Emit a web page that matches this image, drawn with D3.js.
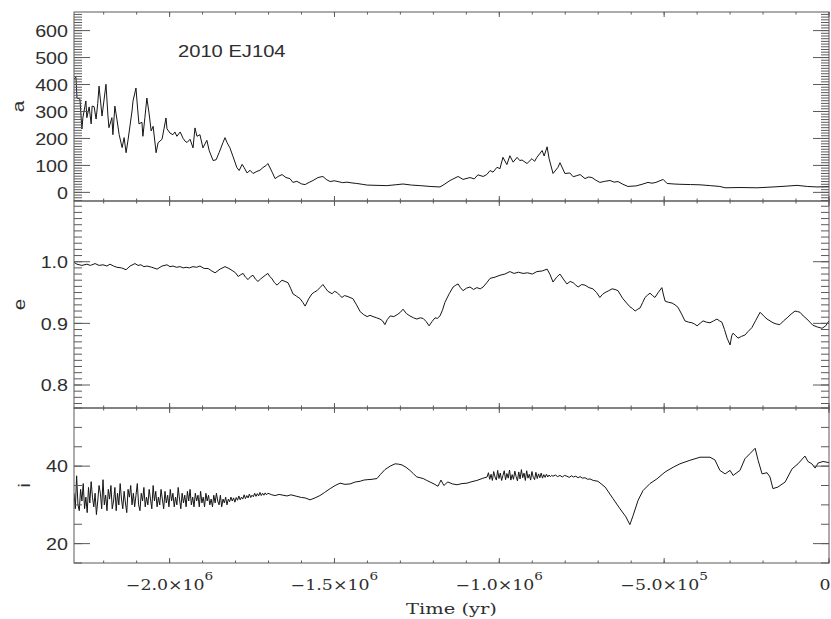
<!DOCTYPE html>
<html><head><meta charset="utf-8">
<script src="https://cdn.jsdelivr.net/npm/d3@7"></script>
<style>html,body{margin:0;padding:0;background:#fff;overflow:hidden}</style>
</head><body>
<svg id="chart" width="831" height="619"></svg>
<script>
// ---------------- DATA (time in kyr, value) ----------------
const objectName = "2010 EJ104";
const xTitle = "Time (yr)";
const panelLabels = ["a", "e", "i"];

const aSeries = [[-2290,420],[-2284,427],[-2281,350],[-2272,346],[-2266,235],[-2263,277],[-2254,339],[-2251,277],[-2244,317],[-2238,254],[-2235,320],[-2229,318],[-2223,272],[-2218,330],[-2214,394],[-2205,283],[-2193,401],[-2187,283],[-2184,240],[-2175,277],[-2172,214],[-2166,320],[-2160,272],[-2153,214],[-2144,166],[-2138,203],[-2132,147],[-2126,195],[-2114,302],[-2111,339],[-2102,387],[-2099,339],[-2093,254],[-2084,260],[-2081,208],[-2075,277],[-2069,350],[-2062,291],[-2056,228],[-2050,245],[-2041,147],[-2035,184],[-2023,197],[-2017,236],[-2011,276],[-2008,236],[-1999,220],[-1990,214],[-1984,224],[-1978,208],[-1968,224],[-1959,200],[-1953,190],[-1947,185],[-1938,197],[-1929,165],[-1923,239],[-1917,208],[-1908,214],[-1899,165],[-1887,193],[-1880,155],[-1868,118],[-1859,121],[-1850,147],[-1838,185],[-1832,203],[-1826,185],[-1817,165],[-1808,134],[-1796,92],[-1789,81],[-1780,104],[-1774,92],[-1765,72],[-1756,82],[-1747,70],[-1735,78],[-1726,82],[-1717,92],[-1708,99],[-1702,107],[-1689,75],[-1680,51],[-1671,59],[-1659,66],[-1647,55],[-1635,51],[-1626,37],[-1614,41],[-1599,31],[-1589,29],[-1577,37],[-1565,44],[-1550,55],[-1535,59],[-1525,48],[-1513,40],[-1501,43],[-1489,40],[-1475,36],[-1462,38],[-1447,35],[-1432,33],[-1416,30],[-1401,27],[-1371,26],[-1341,25],[-1316,28],[-1292,31],[-1266,27],[-1240,25],[-1210,22],[-1180,20],[-1165,31],[-1152,42],[-1143,48],[-1125,59],[-1110,48],[-1098,52],[-1089,55],[-1076,50],[-1065,65],[-1049,59],[-1038,66],[-1028,81],[-1019,75],[-1007,93],[-998,88],[-989,130],[-977,103],[-968,136],[-958,112],[-946,130],[-938,118],[-931,120],[-916,107],[-901,125],[-893,115],[-886,130],[-870,155],[-864,135],[-855,169],[-849,125],[-837,70],[-822,93],[-816,110],[-801,70],[-786,72],[-776,58],[-765,62],[-755,66],[-740,51],[-730,57],[-719,55],[-707,45],[-695,37],[-680,41],[-664,44],[-652,38],[-640,40],[-625,30],[-610,22],[-585,24],[-567,30],[-549,37],[-537,34],[-525,37],[-503,48],[-491,33],[-470,31],[-452,30],[-420,29],[-391,28],[-360,25],[-331,22],[-315,17],[-270,18],[-218,17],[-170,20],[-130,23],[-97,26],[-66,22],[-36,20],[0,22]];

const eSeries = [[-2290,0.999],[-2281,0.996],[-2266,0.994],[-2251,0.996],[-2240,0.994],[-2226,0.997],[-2214,0.994],[-2202,0.995],[-2190,0.993],[-2181,0.996],[-2170,0.993],[-2160,0.991],[-2146,0.990],[-2132,0.987],[-2120,0.993],[-2105,0.997],[-2096,0.994],[-2087,0.995],[-2078,0.992],[-2069,0.993],[-2054,0.991],[-2038,0.988],[-2023,0.993],[-2008,0.995],[-1999,0.992],[-1990,0.993],[-1979,0.991],[-1968,0.992],[-1959,0.990],[-1950,0.991],[-1940,0.990],[-1929,0.992],[-1918,0.991],[-1908,0.993],[-1895,0.989],[-1883,0.989],[-1872,0.985],[-1862,0.982],[-1847,0.988],[-1832,0.992],[-1820,0.989],[-1808,0.985],[-1800,0.982],[-1792,0.976],[-1784,0.979],[-1777,0.981],[-1770,0.975],[-1762,0.971],[-1754,0.976],[-1747,0.978],[-1740,0.972],[-1732,0.968],[-1724,0.972],[-1717,0.975],[-1710,0.978],[-1702,0.981],[-1696,0.976],[-1689,0.972],[-1682,0.966],[-1674,0.962],[-1667,0.966],[-1659,0.970],[-1650,0.968],[-1641,0.966],[-1633,0.957],[-1626,0.948],[-1615,0.944],[-1604,0.940],[-1596,0.934],[-1589,0.928],[-1578,0.940],[-1568,0.948],[-1560,0.951],[-1553,0.953],[-1544,0.958],[-1535,0.963],[-1527,0.957],[-1520,0.952],[-1507,0.948],[-1500,0.952],[-1492,0.950],[-1485,0.946],[-1477,0.942],[-1470,0.945],[-1462,0.944],[-1453,0.942],[-1444,0.940],[-1433,0.930],[-1422,0.919],[-1411,0.914],[-1401,0.911],[-1392,0.913],[-1383,0.911],[-1372,0.909],[-1362,0.907],[-1354,0.904],[-1347,0.898],[-1340,0.906],[-1331,0.912],[-1320,0.911],[-1310,0.914],[-1300,0.918],[-1292,0.923],[-1282,0.916],[-1271,0.912],[-1260,0.909],[-1250,0.907],[-1240,0.909],[-1231,0.908],[-1222,0.903],[-1213,0.896],[-1204,0.903],[-1195,0.909],[-1188,0.908],[-1180,0.912],[-1172,0.922],[-1165,0.934],[-1152,0.948],[-1140,0.959],[-1132,0.962],[-1125,0.964],[-1118,0.958],[-1110,0.953],[-1100,0.957],[-1089,0.959],[-1078,0.955],[-1068,0.958],[-1058,0.956],[-1049,0.959],[-1038,0.966],[-1028,0.973],[-1013,0.975],[-998,0.978],[-983,0.980],[-968,0.984],[-955,0.981],[-942,0.983],[-928,0.981],[-914,0.982],[-900,0.980],[-886,0.984],[-870,0.985],[-855,0.988],[-846,0.979],[-837,0.967],[-826,0.975],[-816,0.980],[-806,0.972],[-795,0.964],[-785,0.968],[-776,0.966],[-768,0.962],[-761,0.959],[-750,0.963],[-740,0.962],[-728,0.958],[-716,0.956],[-705,0.950],[-695,0.942],[-687,0.947],[-679,0.950],[-668,0.953],[-658,0.956],[-649,0.955],[-640,0.953],[-632,0.946],[-625,0.940],[-614,0.933],[-604,0.927],[-596,0.924],[-588,0.920],[-580,0.923],[-573,0.925],[-565,0.934],[-558,0.942],[-550,0.946],[-543,0.949],[-535,0.945],[-528,0.942],[-518,0.950],[-507,0.958],[-502,0.946],[-497,0.936],[-486,0.934],[-476,0.933],[-467,0.930],[-458,0.926],[-447,0.915],[-437,0.904],[-426,0.902],[-416,0.901],[-408,0.899],[-400,0.896],[-391,0.900],[-382,0.904],[-372,0.902],[-361,0.901],[-350,0.904],[-340,0.907],[-332,0.904],[-325,0.902],[-317,0.890],[-309,0.876],[-300,0.865],[-295,0.880],[-291,0.884],[-283,0.880],[-276,0.876],[-265,0.879],[-255,0.881],[-245,0.887],[-234,0.893],[-222,0.905],[-209,0.918],[-198,0.912],[-188,0.907],[-179,0.904],[-170,0.901],[-160,0.899],[-149,0.898],[-138,0.904],[-127,0.909],[-115,0.915],[-103,0.920],[-95,0.919],[-88,0.918],[-78,0.912],[-67,0.907],[-58,0.902],[-49,0.897],[-35,0.894],[-21,0.892],[-10,0.896],[0,0.904]];

const iSeries = [
[-2290,33],[-2286,29],[-2282,37.5],[-2278,30],[-2274,28.5],[-2270,34],[-2266,31],[-2262,35.5],[-2258,29],[-2254,32],[-2250,28],[-2246,34.5],[-2242,30.5],[-2238,36],[-2234,32],[-2230,29.5],[-2226,33],[-2222,27.5],[-2218,31],[-2214,35],[-2210,33],[-2206,29],[-2202,36.5],[-2198,30],[-2194,32.5],[-2190,28.5],[-2186,34],[-2182,31.5],[-2178,35],[-2174,29],[-2170,31],[-2166,34.5],[-2162,28.5],[-2158,33],[-2154,30],[-2150,35.5],[-2146,31.5],[-2142,29],[-2138,33.5],[-2134,30.5],[-2130,28],[-2126,34],[-2122,32],[-2118,35],[-2114,30],[-2110,33],[-2106,29.5],[-2102,32.5],
[-2098,35.5],[-2094,30],[-2090,28.5],[-2086,33],[-2082,31],[-2078,34.5],[-2074,29.5],[-2070,32],[-2066,30],[-2062,34],[-2058,31.5],[-2054,29],[-2050,35],[-2046,31],[-2042,33.5],[-2038,29.5],[-2034,32],[-2030,30],[-2026,34],[-2022,31.5],[-2018,29],[-2014,33.5],[-2010,30.5],[-2006,32.5],[-2002,29.5],[-1998,34],[-1994,31],[-1990,33],[-1986,29.5],[-1982,32],[-1978,30],[-1974,34.5],[-1970,31.5],[-1966,29],[-1962,33],[-1958,30.5],[-1954,32.5],[-1950,29.5],[-1946,33.5],[-1942,31],[-1938,34],[-1934,30],[-1930,32],[-1926,29.5],[-1922,33],[-1918,31],[-1914,32.5],[-1910,29.5],[-1906,33.5],[-1902,30.5],
[-1898,32],[-1894,29.5],[-1890,33],[-1886,31],[-1882,32.5],[-1878,30],[-1874,31.5],[-1870,29.5],[-1866,32.5],[-1862,30.5],[-1858,33],[-1854,31],[-1850,30],[-1846,32.5],[-1842,29.5],[-1838,31.5],[-1834,30.5],[-1830,32],[-1826,30],[-1822,31.5],
[-1818,30.8],[-1814,32],[-1810,31],[-1806,31.8],[-1802,30.7],[-1798,31.9],[-1794,31.2],[-1790,32.3],[-1786,31.3],[-1782,32],[-1778,31.5],[-1774,32.6],[-1770,31.6],[-1766,32.4],[-1762,31.8],[-1758,32.8],[-1754,31.9],[-1750,32.5],[-1746,32.1],[-1742,33],[-1738,32.2],[-1734,32.9],[-1730,32.3],[-1726,33.2],[-1722,32.4],[-1718,33],[-1714,32.5],[-1710,33.1],[-1706,32.6],[-1702,33],
[-1690,32.6],[-1680,32.4],[-1668,32.7],[-1656,32.5],[-1644,32.3],[-1632,32.6],[-1614,32.2],[-1600,31.9],[-1589,31.8],[-1574,31.3],[-1559,31.8],[-1544,32.4],[-1530,33.2],[-1513,34.2],[-1498,35.0],[-1483,35.6],[-1468,35.3],[-1453,35.4],[-1437,35.9],[-1422,36.1],[-1411,36.4],[-1401,36.5],[-1386,36.6],[-1371,36.8],[-1360,37.9],[-1347,39.1],[-1331,40.0],[-1316,40.6],[-1305,40.5],[-1295,40.3],[-1283,39.7],[-1271,38.9],[-1260,38.0],[-1250,37.2],[-1240,37.0],[-1231,36.8],[-1220,36.3],[-1210,35.9],[-1198,35.4],[-1186,34.8],[-1182,35.5],[-1177,36.4],[-1172,35.6],[-1168,35.0],[-1162,35.5],[-1156,35.9],[-1142,35.4],[-1128,35.2],[-1113,35.5],[-1098,35.6],[-1083,36.0],[-1068,36.3],[-1052,36.8],
[-1037,37.2],[-1033,38.3],[-1029,36.6],[-1025,37.9],[-1021,36.3],[-1017,38.6],[-1013,37.2],[-1009,36.4],[-1005,38.9],[-1001,36.8],[-997,38.2],[-993,36.3],[-989,37.6],[-985,38.8],[-981,36.5],[-977,38.1],[-973,36.9],[-969,39.0],[-965,36.4],[-961,37.8],[-957,36.6],[-953,38.7],[-949,37.3],[-945,36.2],[-941,38.5],[-937,36.7],[-933,39.1],[-929,37.0],[-925,38.2],[-921,36.3],[-917,38.8],[-913,36.9],[-909,37.9],[-905,36.4],[-901,38.6],[-897,37.1],[-893,36.5],[-889,38.4],[-885,36.8],[-881,38.0],[-877,37.0],[-873,38.2],[-869,36.9],[-865,37.8],[-861,37.1],[-857,37.9],[-853,37.2],[-849,37.7],[-845,37.3],[-841,37.6],[-837,37.4],
[-830,37.7],[-823,37.3],[-816,37.6],[-809,37.2],[-802,37.6],[-795,37.4],[-788,37.1],[-781,37.5],[-775,37.2],[-768,37.4],[-761,37.0],[-755,37.3],[-748,36.9],[-740,37.0],[-732,36.6],[-725,36.7],[-715,36.3],[-701,36.1],
[-679,34.6],[-655,31.6],[-634,29.0],[-616,26.9],[-604,24.9],[-594,27.3],[-579,31.2],[-564,33.7],[-543,35.5],[-522,36.7],[-497,38.5],[-473,39.7],[-452,40.6],[-422,41.5],[-391,42.3],[-361,42.3],[-346,41.6],[-331,38.9],[-315,38.0],[-300,38.9],[-291,37.6],[-270,38.9],[-255,41.9],[-240,43.2],[-224,44.6],[-215,41.5],[-203,38.0],[-188,38.3],[-179,37.2],[-170,34.2],[-155,34.6],[-133,35.9],[-112,39.3],[-94,40.6],[-73,42.6],[-64,41.2],[-52,40.6],[-42,39.5],[-33,40.8],[-18,41.2],[0,40.9]];

const xTickValues = [-2000000, -1500000, -1000000, -500000, 0];
const xTickMantissa = ["\u22122.0\u00d710", "\u22121.5\u00d710", "\u22121.0\u00d710", "\u22125.0\u00d710", "0"];
const xTickExponent = ["6", "6", "6", "5", ""];
const aTickValues = [0, 100, 200, 300, 400, 500, 600];
const aTickLabels = ["0", "100", "200", "300", "400", "500", "600"];
const eTickValues = [0.8, 0.9, 1.0];
const eTickLabels = ["0.8", "0.9", "1.0"];
const iTickValues = [20, 40];
const iTickLabels = ["20", "40"];

// ---------------- LAYOUT ----------------
const svg = d3.select("#chart");
const L = 74, R = 829;
const x = d3.scaleLinear().domain([-2290000, 0]).range([L, R]);

const panels = [
  {data:aSeries, top:12,  bottom:201, domain:[-32, 669],
   major:aTickValues, labels:aTickLabels, minor:d3.range(-30, 670, 10), labX:23.5},
  {data:eSeries, top:201, bottom:408, domain:[0.7627, 1.0985],
   major:eTickValues, labels:eTickLabels, minor:d3.range(77, 110, 1).map(v => v/100), labX:25},
  {data:iSeries, top:408, bottom:563, domain:[15, 55],
   major:iTickValues, labels:iTickLabels, minor:d3.range(15, 56, 5), labX:30}
];

const axisColor = "#5a5a5a";
const textColor = "#2e2e2e";
const sansFont = "'Liberation Sans', Arial, Helvetica, sans-serif";
const serifFont = "'DejaVu Serif', serif";

function addText(parent, px, py, str, o) {
  const tr = `translate(${px},${py})` + (o.rotate ? ` rotate(${o.rotate})` : "") + ` scale(${o.sx || 1},1)`;
  return parent.append("text")
    .attr("transform", tr)
    .attr("text-anchor", o.anchor || "start")
    .style("font-family", o.family)
    .style("font-size", o.size + "px")
    .style("fill", textColor)
    .text(str);
}

const xMinor = d3.range(-2200000, 1, 100000);
const defs = svg.append("defs");

panels.forEach((p, k) => {
  const y = d3.scaleLinear().domain(p.domain).range([p.bottom, p.top]);
  const g = svg.append("g");

  defs.append("clipPath").attr("id", "clip" + k)
    .append("rect").attr("x", L).attr("y", p.top).attr("width", R - L).attr("height", p.bottom - p.top);

  const line = d3.line().x(d => x(d[0] * 1000)).y(d => y(d[1]));
  g.append("path").datum(p.data)
    .attr("d", line)
    .attr("clip-path", `url(#clip${k})`)
    .attr("fill", "none")
    .attr("stroke", "#151515")
    .attr("stroke-width", 1)
    .attr("stroke-linejoin", "round");

  const ax = g.append("g").attr("stroke", axisColor).attr("stroke-width", 1).attr("fill", "none");
  ax.append("rect").attr("x", L).attr("y", p.top).attr("width", R - L).attr("height", p.bottom - p.top);

  p.minor.filter(v => v >= p.domain[0] && v <= p.domain[1]).forEach(v => {
    const yy = y(v);
    ax.append("line").attr("x1", L).attr("x2", L + 8).attr("y1", yy).attr("y2", yy);
    ax.append("line").attr("x1", R).attr("x2", R - 8).attr("y1", yy).attr("y2", yy);
  });
  p.major.forEach(v => {
    const yy = y(v);
    ax.append("line").attr("x1", L).attr("x2", L + 16).attr("y1", yy).attr("y2", yy);
    ax.append("line").attr("x1", R).attr("x2", R - 16).attr("y1", yy).attr("y2", yy);
  });

  xMinor.forEach(v => {
    const xx = x(v);
    ax.append("line").attr("x1", xx).attr("x2", xx).attr("y1", p.top).attr("y2", p.top + 2.5);
    ax.append("line").attr("x1", xx).attr("x2", xx).attr("y1", p.bottom).attr("y2", p.bottom - 2.5);
  });
  xTickValues.forEach(v => {
    const xx = x(v);
    ax.append("line").attr("x1", xx).attr("x2", xx).attr("y1", p.top).attr("y2", p.top + 5);
    ax.append("line").attr("x1", xx).attr("x2", xx).attr("y1", p.bottom).attr("y2", p.bottom - 5);
  });

  p.major.forEach((v, j) => {
    addText(g, 68, y(v) + 6.3, p.labels[j], {family: sansFont, size: 16, sx: 1.23, anchor: "end"});
  });

  addText(g, p.labX, (p.top + p.bottom) / 2, panelLabels[k],
    {family: sansFont, size: 16, sx: 1.3, anchor: "middle", rotate: -90});
});

// x tick labels (the last one, at the right frame edge, is kept inside the window)
xTickValues.forEach((v, j) => {
  const atEdge = x(v) > 820;
  const t = addText(svg, atEdge ? 830.5 : x(v), 590, xTickMantissa[j],
    {family: serifFont, size: 14, sx: 1.24, anchor: atEdge ? "end" : "middle"});
  if (xTickExponent[j]) {
    t.append("tspan").attr("dy", -10).style("font-size", "11px").text(xTickExponent[j]);
  }
});

addText(svg, (L + R) / 2, 614, xTitle, {family: serifFont, size: 15, sx: 1.3, anchor: "middle"});
addText(svg, 178, 57, objectName, {family: sansFont, size: 16, sx: 1.26, anchor: "start"});
</script>
</body></html>
